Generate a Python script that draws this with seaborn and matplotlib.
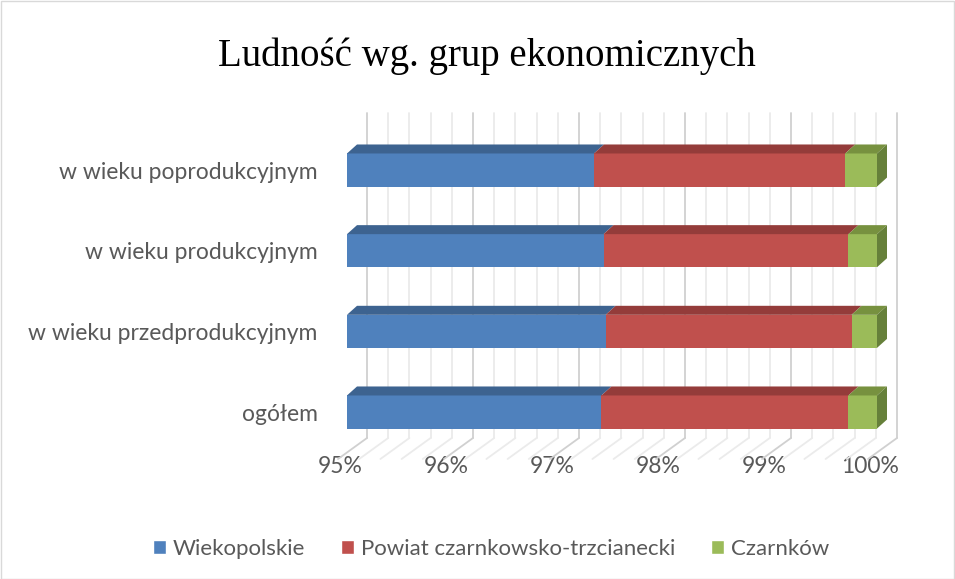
import pandas as pd
import numpy as np
import matplotlib
matplotlib.use('Agg')
import matplotlib.pyplot as plt
import seaborn as sns
from matplotlib.patches import Patch
from matplotlib.transforms import ScaledTranslation

# dane (udział w %)
categories = ['w wieku poprodukcyjnym', 'w wieku produkcyjnym',
              'w wieku przedprodukcyjnym', 'ogółem']
series = ['Wiekopolskie', 'Powiat czarnkowsko-trzcianecki', 'Czarnków']
wielkopolskie = [97.33, 97.42, 97.44, 97.40]
powiat = [2.37, 2.31, 2.32, 2.33]
czarnkow = [0.30, 0.27, 0.24, 0.27]
xticks = [95, 96, 97, 98, 99, 100]
xticklabels = ['95%', '96%', '97%', '98%', '99%', '100%']

colors = ['#4F81BD', '#C0504D', '#9BBB59']
top_colors = ['#3D6390', '#943C3A', '#77913F']
side_colors = ['#35557C', '#7F3331', '#66803A']

# skumulowane wartości
df = pd.DataFrame({'cat': categories, 'Wiekopolskie': wielkopolskie,
                   'Powiat czarnkowsko-trzcianecki': powiat, 'Czarnków': czarnkow})
cum = df[series].cumsum(axis=1)
cum.insert(0, 'start', 95.0)
cum['cat'] = df['cat']

sns.set_style('white')
plt.rcParams['font.family'] = ['Lato', 'DejaVu Sans']

W, H = 955, 579
fig = plt.figure(figsize=(W / 100, H / 100), dpi=100)
ax_l, ax_r, ax_t, ax_b = 347, 877, 110, 445
ax = fig.add_axes([ax_l / W, 1 - ax_b / H, (ax_r - ax_l) / W, (ax_b - ax_t) / H])

# słupki (od najdłuższego, żeby się nakładały jak w wykresie skumulowanym)
for i in reversed(range(3)):
    sns.barplot(data=cum, x=series[i], y='cat', color=colors[i], width=0.41,
                saturation=1, orient='h', ax=ax, zorder=3, linewidth=0)

ax.set_xlim(95, 100)
ax.set_ylim(3.409, -0.744)
ax.set_xlabel('')
ax.set_ylabel('')
for s in ax.spines.values():
    s.set_visible(False)

px_x = (ax_r - ax_l) / 5.0
px_y = (ax_b - ax_t) / (3.409 + 0.744)
dx, dy = 10 / px_x, 9 / px_y  # głębokość 3D
hw = 0.41 / 2

# górne i boczne ściany słupków
for j in range(len(categories)):
    for i in range(3):
        x0 = cum['start'].iloc[j] if i == 0 else cum[series[i - 1]].iloc[j]
        x1 = cum[series[i]].iloc[j]
        yt = j - hw
        ax.fill([x0, x1, x1 + dx, x0 + dx], [yt, yt, yt - dy, yt - dy],
                color=top_colors[i], lw=0, zorder=4, clip_on=False)
    xe = cum[series[2]].iloc[j]
    ax.fill([xe, xe + dx, xe + dx, xe], [j - hw, j - hw - dy, j + hw - dy, j + hw],
            color=side_colors[2], lw=0, zorder=4, clip_on=False)

# siatka: tylna ściana i podłoga
back = 20 / px_x
front = -9 / px_x
yb_top, yb_bot, yf = (ax_b - 113) / (ax_b - ax_t), (ax_b - 438) / (ax_b - ax_t), (ax_b - 459) / (ax_b - ax_t)
tr = ax.get_xaxis_transform()
for x in np.arange(95, 100.001, 0.2):
    major = abs(x - round(x)) < 1e-6
    c = '#D0D0D0' if major else '#EBEBEB'
    ax.plot([x + back, x + back], [yb_top, yb_bot], color=c, lw=1.3, transform=tr,
            clip_on=False, zorder=1)
    ax.plot([x + back, x + front], [yb_bot, yf], color=c, lw=1.3, transform=tr,
            clip_on=False, zorder=1)

ax.set_xticks(xticks)
ax.set_xticklabels(xticklabels)
ax.tick_params(axis='x', length=0, pad=8, labelsize=16.5, labelcolor='#595959')
ax.tick_params(axis='y', length=0, pad=21, labelsize=16.5, labelcolor='#595959')
for lab in ax.get_xticklabels():
    lab.set_transform(lab.get_transform() + ScaledTranslation(-0.07, 0, fig.dpi_scale_trans))

fig.text(487 / W, 1 - 56 / H, 'Ludność wg. grup ekonomicznych', ha='center', va='center',
         fontsize=28, family='Liberation Serif', color='#000000')

handles = [Patch(facecolor=colors[i], label=series[i]) for i in range(3)]
fig.legend(handles=handles, loc='center', bbox_to_anchor=(491 / W, 1 - 549 / H), ncol=3,
           frameon=False, fontsize=16, labelcolor='#595959', handlelength=0.6,
           handleheight=0.6, handletextpad=0.3, columnspacing=1.6)

# ramka wokół wykresu
fig.patches.append(plt.Rectangle((0.5 / W, 0.5 / H), 1 - 1.5 / W, 1 - 1.5 / H,
                                 transform=fig.transFigure, fill=False, ec='#D9D9D9', lw=1))

fig.savefig('out.png', dpi=100)
